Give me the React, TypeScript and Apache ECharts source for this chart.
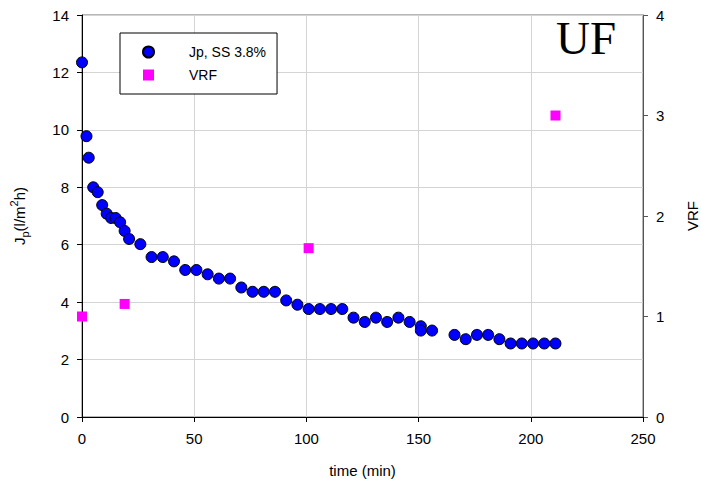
import React, { useEffect, useRef } from "react";
import * as echarts from "echarts";

const timeJp = [0, 2, 3, 5, 7, 9, 11, 13, 15, 17, 19, 21, 26, 31, 36, 41, 46, 51, 56, 61, 66, 71, 76, 81, 86, 91, 96, 101, 106, 111, 116, 121, 126, 131, 136, 141, 146, 151, 151, 156, 166, 171, 176, 181, 186, 191, 196, 201, 206, 211];
const jpValues = [12.35, 9.78, 9.03, 8.0, 7.83, 7.38, 7.08, 6.93, 6.93, 6.78, 6.48, 6.2, 6.02, 5.57, 5.57, 5.42, 5.12, 5.12, 4.97, 4.82, 4.82, 4.51, 4.36, 4.36, 4.36, 4.06, 3.91, 3.76, 3.76, 3.76, 3.76, 3.46, 3.31, 3.46, 3.31, 3.46, 3.31, 3.16, 3.01, 3.01, 2.86, 2.71, 2.86, 2.86, 2.71, 2.56, 2.56, 2.56, 2.56, 2.56];
const timeVrf = [0, 19, 101, 211];
const vrfValues = [1.0, 1.125, 1.68, 3.0];

const FONT = "'Liberation Sans', Arial, sans-serif";

export default function App() {
  const ref = useRef<HTMLDivElement>(null);
  useEffect(() => {
    const chart = echarts.init(ref.current!, null, { renderer: "svg" });
    chart.setOption({
      animation: false,
      backgroundColor: "#fff",
      textStyle: { fontFamily: FONT },
      grid: {
        left: 82,
        right: 58,
        top: 15,
        bottom: 70,
        show: true,
        borderColor: "#707070",
        borderWidth: 1,
        containLabel: false,
        outerBoundsMode: "none",
      },
      legend: {
        data: ["Jp, SS 3.8%", "VRF"],
        orient: "vertical",
        left: 120,
        top: 33,
        padding: [12, 11, 12, 22],
        itemWidth: 11,
        itemHeight: 11,
        itemGap: 9,
        borderColor: "#000",
        borderWidth: 1,
        backgroundColor: "#fff",
        textStyle: { fontFamily: FONT, fontSize: 14, color: "#000", padding: [0, 0, 0, 30] },
      },
      xAxis: {
        type: "value",
        min: 0,
        max: 250,
        interval: 50,
        name: "time (min)",
        nameLocation: "middle",
        nameGap: 46,
        nameTextStyle: { fontFamily: FONT, fontSize: 15, color: "#000" },
        axisLine: { show: true, onZero: false, lineStyle: { color: "#000", width: 1 } },
        axisTick: { show: true, length: 5, lineStyle: { color: "#000" } },
        axisLabel: { margin: 14, fontFamily: FONT, fontSize: 15, color: "#000" },
        splitLine: { show: true, lineStyle: { color: "#d4d4d4", width: 1 } },
      },
      yAxis: [
        {
          type: "value",
          min: 0,
          max: 14,
          interval: 2,
          name: "{a|J}{b|p}{a|(l/m}{c|2}{a|h)}",
          nameLocation: "middle",
          nameRotate: 90,
          nameGap: 52,
          nameTextStyle: {
            fontFamily: FONT,
            color: "#000",
            rich: {
              a: { fontFamily: FONT, fontSize: 15, color: "#000", lineHeight: 22, verticalAlign: "middle" },
              b: { fontFamily: FONT, fontSize: 11, color: "#000", lineHeight: 22, verticalAlign: "bottom" },
              c: { fontFamily: FONT, fontSize: 11, color: "#000", lineHeight: 22, verticalAlign: "top" },
            },
          },
          axisLine: { show: true, lineStyle: { color: "#000", width: 1 } },
          axisTick: { show: true, length: 5, lineStyle: { color: "#000" } },
          axisLabel: { margin: 13, fontFamily: FONT, fontSize: 15, color: "#000" },
          splitLine: { show: true, lineStyle: { color: "#d4d4d4", width: 1 } },
        },
        {
          type: "value",
          min: 0,
          max: 4,
          interval: 1,
          position: "right",
          name: "VRF",
          nameLocation: "middle",
          nameRotate: 90,
          nameGap: 42,
          nameTextStyle: { fontFamily: FONT, fontSize: 15, color: "#000" },
          axisLine: { show: true, lineStyle: { color: "#555", width: 1 } },
          axisTick: { show: true, length: 5, lineStyle: { color: "#555" } },
          axisLabel: { margin: 13, fontFamily: FONT, fontSize: 15, color: "#000" },
          splitLine: { show: false },
        },
      ],
      graphic: [
        {
          type: "text",
          x: 586,
          y: 38,
          style: {
            text: "UF",
            fontFamily: "'Liberation Serif', 'Times New Roman', serif",
            fontSize: 47,
            fill: "#000",
            align: "center",
            verticalAlign: "middle",
          },
          z: 100,
        },
      ],
      series: [
        {
          name: "VRF",
          type: "scatter",
          yAxisIndex: 1,
          symbol: "rect",
          symbolSize: 10,
          itemStyle: { color: "#ff00ff", opacity: 1 },
          data: timeVrf.map((t, i) => [t, vrfValues[i]]),
          z: 3,
        },
        {
          name: "Jp, SS 3.8%",
          type: "scatter",
          yAxisIndex: 0,
          symbol: "circle",
          symbolSize: 11,
          itemStyle: { color: "#0000ff", borderColor: "#000", borderWidth: 1, opacity: 1 },
          data: timeJp.map((t, i) => [t, jpValues[i]]),
          z: 4,
        },
      ],
    });
    return () => chart.dispose();
  }, []);
  return (
    <div
      ref={ref}
      style={{ position: "fixed", left: 0, top: 0, width: 701, height: 487 }}
    />
  );
}
